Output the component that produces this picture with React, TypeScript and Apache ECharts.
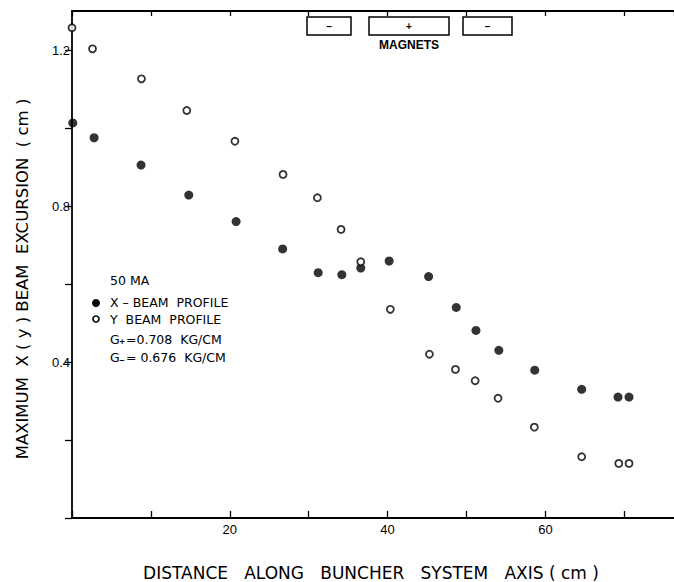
import React, { useEffect, useRef } from "react";
import * as echarts from "echarts";

const xBeamX = [0.1, 2.8, 8.75, 14.8, 20.8, 26.7, 31.2, 34.2, 36.6, 40.2, 45.2, 48.7, 51.2, 54.1, 58.65, 64.6, 69.2, 70.6];
const xBeamY = [1.013, 0.975, 0.905, 0.828, 0.76, 0.69, 0.629, 0.624, 0.641, 0.659, 0.619, 0.54, 0.481, 0.43, 0.379, 0.33, 0.31, 0.31];
const yBeamX = [0.0, 2.6, 8.8, 14.55, 20.65, 26.75, 31.1, 34.1, 36.6, 40.35, 45.3, 48.6, 51.1, 54.0, 58.6, 64.6, 69.3, 70.6];
const yBeamY = [1.257, 1.203, 1.126, 1.045, 0.966, 0.881, 0.821, 0.74, 0.657, 0.535, 0.42, 0.381, 0.352, 0.307, 0.233, 0.157, 0.14, 0.14];
const xLabels = [20, 40, 60];
const yLabels = [0.4, 0.8, 1.2];
const legendLines = ["50 MA", "X \u2013 BEAM  PROFILE", "Y  BEAM  PROFILE"];
const gradientLines = [
  ["+", "=0.708  KG/CM"],
  ["\u2013", "= 0.676  KG/CM"],
];
const magnetSigns = ["\u2013", "+", "\u2013"];

const FONT = "'Liberation Sans', Arial, sans-serif";
const WIDE = "'DejaVu Sans', sans-serif";

export default function App() {
  const ref = useRef<HTMLDivElement>(null);
  useEffect(() => {
    if (!ref.current) return;
    const chart = echarts.init(ref.current, null, { renderer: "svg" });
    const magnetBoxes = [
      [307, 17, 44, 18],
      [369, 17, 80, 18],
      [463, 17, 49, 18],
    ];
    const graphics: any[] = [];
    magnetBoxes.forEach((b, i) => {
      graphics.push({
        type: "rect",
        shape: { x: b[0], y: b[1], width: b[2], height: b[3] },
        style: { fill: "#fff", stroke: "#000", lineWidth: 1.5 },
        z: 10,
      });
      graphics.push({
        type: "text",
        x: b[0] + b[2] / 2,
        y: b[1] + b[3] / 2,
        style: { text: magnetSigns[i], font: `bold 10px ${FONT}`, fill: "#000", align: "center", verticalAlign: "middle" },
        z: 11,
      });
    });
    graphics.push({
      type: "text",
      x: 409,
      y: 45,
      style: { text: "MAGNETS", font: `bold 12px ${FONT}`, fill: "#000", align: "center", verticalAlign: "middle" },
    });
    const legendY = [280, 302, 319];
    legendLines.forEach((t, i) => {
      graphics.push({
        type: "text",
        x: 110,
        y: legendY[i],
        style: { text: t, font: `12.5px ${WIDE}`, fill: "#000", verticalAlign: "middle" },
      });
    });
    const gY = [339, 357];
    gradientLines.forEach((g, i) => {
      graphics.push({ type: "text", x: 110, y: gY[i], style: { text: "G", font: `12.5px ${WIDE}`, fill: "#000", verticalAlign: "middle" } });
      graphics.push({ type: "text", x: 119.5, y: gY[i] + 3, style: { text: g[0], font: `bold 9px ${FONT}`, fill: "#000", verticalAlign: "middle" } });
      graphics.push({ type: "text", x: 126, y: gY[i], style: { text: g[1], font: `12.5px ${WIDE}`, fill: "#000", verticalAlign: "middle" } });
    });
    graphics.push({ type: "circle", shape: { cx: 96, cy: 303, r: 4 }, style: { fill: "#000" } });
    graphics.push({ type: "circle", shape: { cx: 96, cy: 319, r: 3 }, style: { fill: "#fff", stroke: "#000", lineWidth: 1.6 } });
    graphics.push({
      type: "text",
      x: 22,
      y: 279,
      rotation: Math.PI / 2,
      style: { text: "MAXIMUM  X ( y ) BEAM  EXCURSION  ( cm )", font: `16.5px ${WIDE}`, fill: "#000", align: "center", verticalAlign: "middle" },
    });
    graphics.push({
      type: "text",
      x: 371,
      y: 573,
      style: { text: "DISTANCE   ALONG   BUNCHER   SYSTEM   AXIS ( cm )", font: `17px ${WIDE}`, fill: "#000", align: "center", verticalAlign: "middle" },
    });

    const axisLine = { show: true, lineStyle: { color: "#000", width: 1.8 } };
    chart.setOption({
      animation: false,
      backgroundColor: "#fff",
      grid: { left: 72, right: 0, top: 11, bottom: 64 },
      xAxis: [
        {
          type: "value",
          position: "bottom",
          min: 0,
          max: 76.3,
          interval: 10,
          axisLine,
          axisTick: { show: true, inside: true, length: 7, lineStyle: { color: "#000", width: 1.3 } },
          axisLabel: {
            color: "#000",
            fontFamily: FONT,
            fontSize: 13,
            margin: 5,
            showMaxLabel: false,
            formatter: (v: number) => (xLabels.includes(Math.round(v)) ? String(Math.round(v)) : ""),
          },
          splitLine: { show: false },
        },
        {
          type: "value",
          position: "top",
          min: 0,
          max: 76.3,
          interval: 10,
          axisLine,
          axisTick: { show: true, inside: true, length: 5, lineStyle: { color: "#000", width: 1.3 } },
          axisLabel: { show: false },
          splitLine: { show: false },
        },
      ],
      yAxis: {
        type: "value",
        min: 0,
        max: 1.3,
        interval: 0.2,
        axisLine,
        axisTick: { show: true, inside: false, length: 7, lineStyle: { color: "#000", width: 1.3 } },
        axisLabel: {
          color: "#000",
          fontFamily: FONT,
          fontSize: 13,
          margin: 2,
          showMaxLabel: false,
          formatter: (v: number) => {
            const r = Math.round(v * 10) / 10;
            return yLabels.some((l) => Math.abs(l - r) < 1e-6) ? r.toFixed(1) : "";
          },
        },
        splitLine: { show: false },
      },
      series: [
        {
          type: "scatter",
          name: "X - BEAM PROFILE",
          data: xBeamX.map((x, i) => [x, xBeamY[i]]),
          symbol: "circle",
          symbolSize: 9,
          itemStyle: { color: "#000" },
        },
        {
          type: "scatter",
          name: "Y BEAM PROFILE",
          data: yBeamX.map((x, i) => [x, yBeamY[i]]),
          symbol: "circle",
          symbolSize: 7,
          itemStyle: { color: "#fff", borderColor: "#000", borderWidth: 1.8 },
        },
      ],
      graphic: graphics,
    });
    return () => chart.dispose();
  }, []);
  return <div ref={ref} style={{ width: 674, height: 582, position: "absolute", left: 0, top: 0 }} />;
}
